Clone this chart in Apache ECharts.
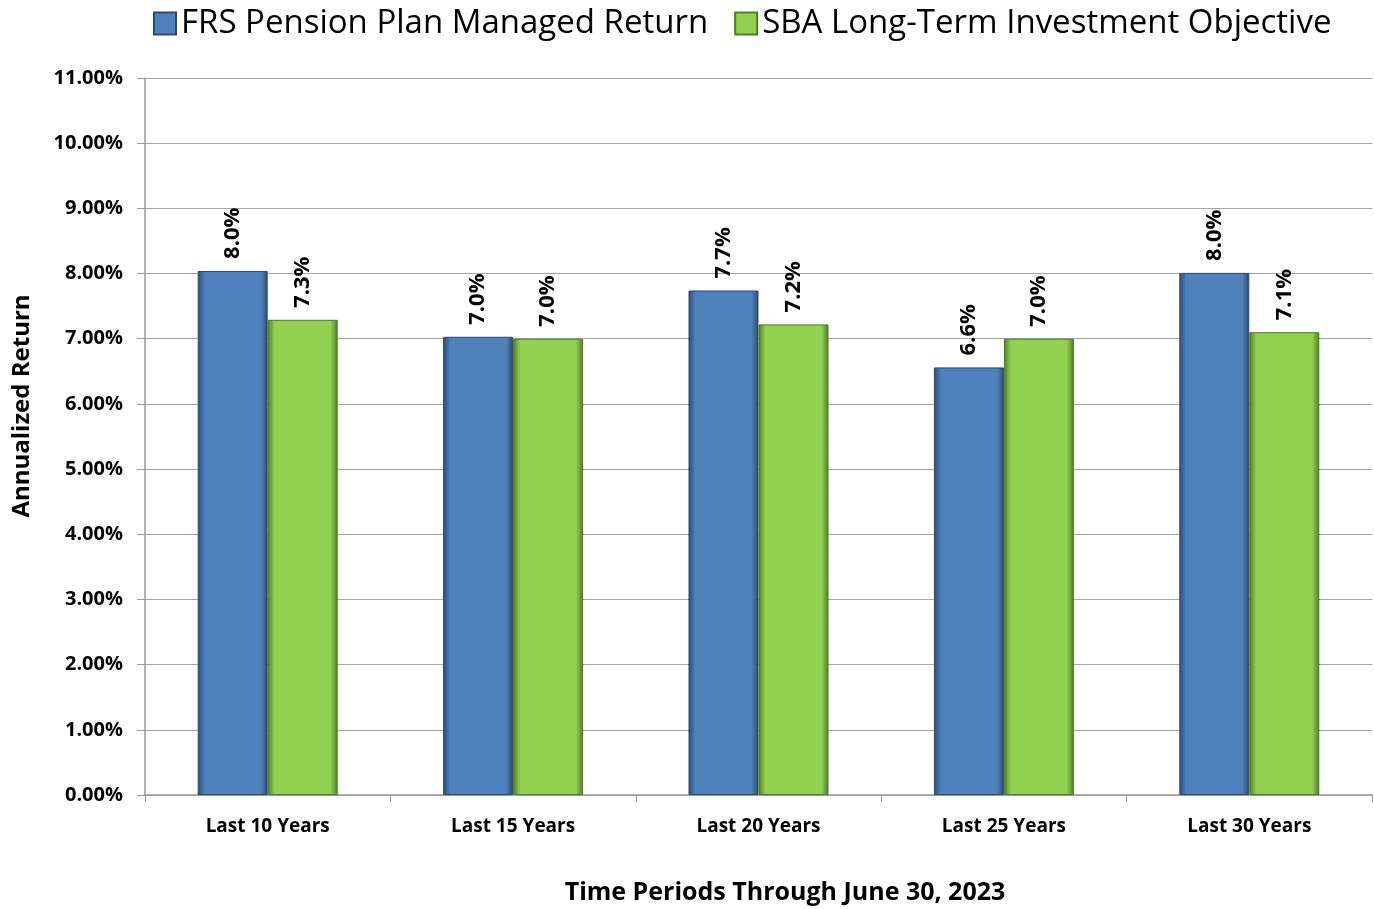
<!DOCTYPE html>
<html>
<head>
<meta charset="utf-8">
<script src="https://cdn.jsdelivr.net/npm/echarts@6/dist/echarts.min.js"></script>
<style>
  html, body { margin: 0; padding: 0; background: #fff; }
  #chart { width: 1374px; height: 909px; }
</style>
</head>
<body>
<div id="chart"></div>
<script>
// data
const categories = ['Last 10 Years', 'Last 15 Years', 'Last 20 Years', 'Last 25 Years', 'Last 30 Years'];
const frsReturn = [8.04, 7.03, 7.74, 6.56, 8.01];
const sbaObjective = [7.29, 7.00, 7.22, 7.00, 7.10];
const seriesNames = ['FRS Pension Plan Managed Return', 'SBA Long-Term Investment Objective'];

const FONT = '"Open Sans", "Noto Sans", sans-serif';

// bevel-ish look: dark edges, flat middle
const bevel = (dark, main) => ({
  type: 'linear', x: 0, y: 0, x2: 1, y2: 0,
  colorStops: [
    { offset: 0, color: dark },
    { offset: 0.1, color: main },
    { offset: 0.9, color: main },
    { offset: 1, color: dark }
  ]
});

const barLabel = {
  show: true,
  position: 'top',
  rotate: 90,
  align: 'left',
  verticalAlign: 'middle',
  distance: 12,
  fontFamily: FONT,
  fontWeight: 'bold',
  fontSize: 22,
  color: '#000',
  formatter: p => p.value.toFixed(1) + '%'
};

const chart = echarts.init(document.getElementById('chart'));
chart.setOption({
  animation: false,
  textStyle: { fontFamily: FONT },
  legend: {
    top: 2,
    left: 148,
    icon: 'rect',
    itemWidth: 22,
    itemHeight: 22,
    itemGap: 26,
    textStyle: { fontFamily: FONT, fontSize: 33, color: '#000' },
    data: seriesNames
  },
  grid: { left: 145, right: 2, top: 78, bottom: 114 },
  xAxis: {
    type: 'category',
    data: categories,
    axisLine: { lineStyle: { color: '#9a9a9a', width: 1.5 } },
    axisTick: { show: true, length: 7, alignWithLabel: false, lineStyle: { color: '#9a9a9a' } },
    axisLabel: { fontFamily: FONT, fontWeight: 'bold', fontSize: 19, color: '#000', margin: 22 }
  },
  yAxis: {
    type: 'value',
    min: 0,
    max: 11,
    interval: 1,
    axisLine: { show: true, lineStyle: { color: '#9a9a9a', width: 1.5 } },
    axisTick: { show: true, length: 8, lineStyle: { color: '#9a9a9a' } },
    axisLabel: {
      fontFamily: FONT, fontWeight: 'bold', fontSize: 20, color: '#000', margin: 22,
      formatter: v => v.toFixed(2) + '%'
    },
    splitLine: { lineStyle: { color: '#a6a6a6', width: 1.2 } }
  },
  graphic: [
    {
      type: 'text', x: 22, y: 406, rotation: Math.PI / 2,
      style: {
        text: 'Annualized Return', align: 'center', verticalAlign: 'middle',
        font: 'bold 24px ' + FONT, fill: '#000'
      }
    },
    {
      type: 'text', x: 785, y: 893,
      style: {
        text: 'Time Periods Through June 30, 2023', align: 'center', verticalAlign: 'middle',
        font: 'bold 25px ' + FONT, fill: '#000'
      }
    }
  ],
  series: [
    {
      name: seriesNames[0],
      type: 'bar',
      data: frsReturn,
      barWidth: 70,
      barGap: '0%',
      itemStyle: { color: bevel('#2b4a70', '#4f81bd'), borderColor: '#2b4a70', borderWidth: 1 },
      label: barLabel
    },
    {
      name: seriesNames[1],
      type: 'bar',
      data: sbaObjective,
      barWidth: 70,
      itemStyle: { color: bevel('#4f7a26', '#92d050'), borderColor: '#4f7a26', borderWidth: 1 },
      label: barLabel
    }
  ]
});
window.addEventListener('resize', () => chart.resize());
</script>
</body>
</html>
